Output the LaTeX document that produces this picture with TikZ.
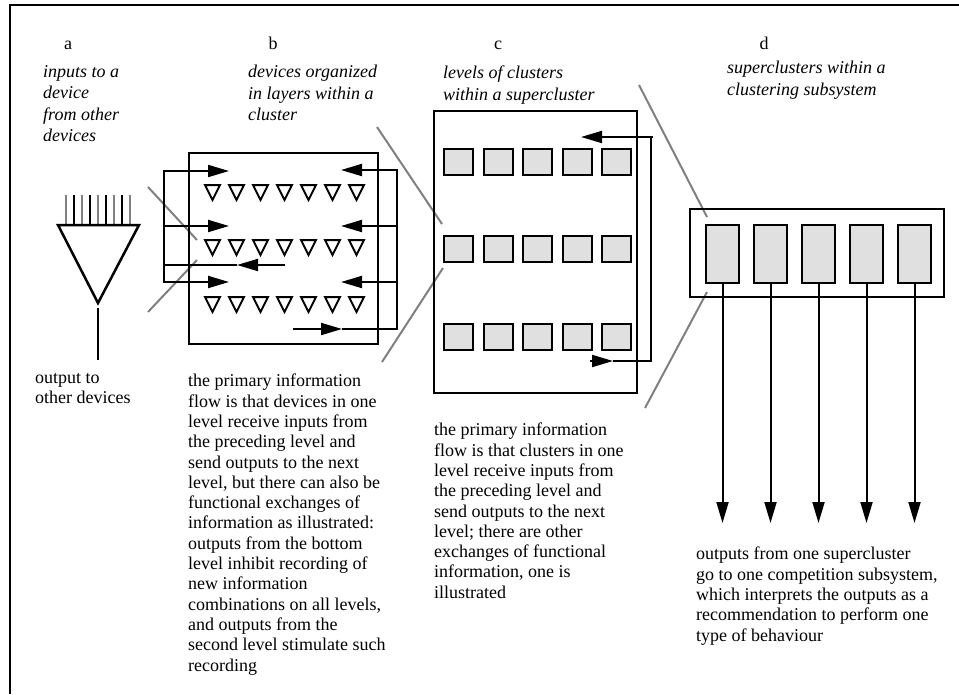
\documentclass[tikz,border=0pt]{standalone}
\usepackage{fontspec}
\setmainfont{Liberation Serif}
\usetikzlibrary{arrows.meta}
\begin{document}
\begin{tikzpicture}[x=1pt,y=-1pt,
  txt/.style={font=\fontsize{18}{20.3}\selectfont, anchor=north west, inner sep=0pt, align=left, execute at begin node=\strut},
  hd/.style={font=\fontsize{18}{21.6}\selectfont\itshape, anchor=north west, inner sep=0pt, align=left, execute at begin node=\strut},
  lbl/.style={font=\fontsize{18}{20}\selectfont, inner sep=0pt, anchor=base},
  ln/.style={line width=2pt},
  thick2/.style={line width=2.5pt},
  gl/.style={line width=2pt, draw=black!50},
  tip/.style={line width=2pt, -{Triangle[length=21pt,width=12pt]}},
  csq/.style={draw, line width=2pt, fill=black!12, minimum width=29pt, minimum height=26pt, inner sep=0pt},
  dsq/.style={draw, line width=2pt, fill=black!12, minimum width=33pt, minimum height=58pt, inner sep=0pt}
]
\useasboundingbox (0,0) rectangle (959,694);
% frame
\draw[line width=2.5pt] (10,694) -- (10,5) -- (959,5);

% letters
\node[lbl] (la) at (68,49) {a};
\node[lbl] (lb) at (273,49) {b};
\node[lbl] (lc) at (498,49) {c};
\node[lbl] (ld) at (764,49) {d};

% headings
\node[hd] (ha) at (43,65) {inputs to a\\device\\from other\\devices};
\node[hd] (hb) at (248,65) {devices organized\\in layers within a\\cluster};
\node[hd] (hc) at (443,66) {levels of clusters\\within a supercluster};
\node[hd] (hd) at (727,61) {superclusters within a\\clustering subsystem};

% ---------- a: device ----------
\foreach \k in {0,...,8}{
  \pgfmathsetmacro{\xx}{66+8*\k}
  \ifodd\k
    \draw[ln] (\xx,195) -- (\xx,225);
  \else
    \draw[ln,draw=black!50] (\xx,195) -- (\xx,225);
  \fi
}
\draw[thick2,line join=miter] (58,225) -- (139,225) -- (98,303) -- cycle;
\coordinate (aout) at (98,360);
\draw[ln] (98,308) -- (aout);
\node[txt] (ta) at (35,373) {output to\\other devices};

% gray zoom lines a -> b
\draw[gl] (148,187) -- (197,240);
\draw[gl] (148,312) -- (197,260);

% ---------- b: cluster ----------
\draw[thick2] (189,153) rectangle (378,344);
\foreach \r in {185,240,297}{
  \foreach \k in {0,...,6}{
    \pgfmathsetmacro{\cx}{212.5+24*\k}
    \draw[ln,fill=white,line join=miter] (\cx-7.5,\r) -- (\cx+7.5,\r) -- (\cx,\r+15) -- cycle;
  }
}
% left feedback
\coordinate (bl1) at (164,171);
\coordinate (bl2) at (164,226);
\coordinate (bl3) at (164,282);
\coordinate (blm) at (164,265);
\draw[ln] (164,170) -- (164,283);
\draw[tip] (bl1) -- (229,171);
\draw[tip] (bl2) -- (229,226);
\draw[tip] (bl3) -- (229,282);
\coordinate (bms) at (285,265);
\coordinate (bmt) at (237,265);
\draw[tip] (bms) -- (bmt);
\draw[ln] (bmt) -- (blm);
% right feedback
\coordinate (br1) at (397,170);
\coordinate (br2) at (397,226);
\coordinate (br3) at (397,282);
\coordinate (brb) at (397,329);
\draw[ln] (397,169) -- (397,330);
\draw[tip] (br1) -- (341,170);
\draw[tip] (br2) -- (341,226);
\draw[tip] (br3) -- (341,282);
\coordinate (bbs) at (293,329);
\coordinate (bbt) at (342,329);
\draw[tip] (bbs) -- (bbt);
\draw[ln] (bbt) -- (brb);

\node[txt] (tb) at (188,374) {the primary information\\flow is that devices in one\\level receive inputs from\\the preceding level and\\send outputs to the next\\level, but there can also be\\functional exchanges of\\information as illustrated:\\outputs from the bottom\\level inhibit recording of\\new information\\combinations on all levels,\\and outputs from the\\second level stimulate such\\recording};

% gray zoom lines b -> c
\draw[gl] (377,127) -- (442,224);
\draw[gl] (382,362) -- (443,268);

% ---------- c: supercluster ----------
\draw[thick2] (434,111) rectangle (637,393);
\foreach \r/\yy in {1/162,2/249,3/337}{
  \foreach \k in {1,...,5}{
    \pgfmathsetmacro{\cx}{458.5+39.5*(\k-1)}
    \node[csq] (c\r\k) at (\cx,\yy) {};
  }
}
\coordinate (ct) at (581,137);
\coordinate (cb) at (613,361);
\draw[tip] (653,137) -- (ct);
\draw[ln] (651,137) -- (651,362);
\draw[tip] (590,361) -- (cb);
\draw[ln] (cb) -- (652,361);

\node[txt] (tc) at (434,423) {the primary information\\flow is that clusters in one\\level receive inputs from\\the preceding level and\\send outputs to the next\\level; there are other\\exchanges of functional\\information, one is\\illustrated};

% gray zoom lines c -> d
\draw[gl] (639,85) -- (707,217);
\draw[gl] (707,292) -- (645,408);

% ---------- d: clustering subsystem ----------
\draw[thick2] (690,209) rectangle (944,297);
\foreach \k in {1,...,5}{
  \pgfmathsetmacro{\cx}{722.5+48*(\k-1)}
  \node[dsq] (d\k) at (\cx,254) {};
  \coordinate (o\k) at (\cx,523);
  \draw[tip] (d\k.south) -- (o\k);
}

\node[txt] (td) at (696,547) {outputs from one supercluster\\go to one competition subsystem,\\which interprets the outputs as a\\recommendation to perform one\\type of behaviour};
\end{tikzpicture}
\end{document}
